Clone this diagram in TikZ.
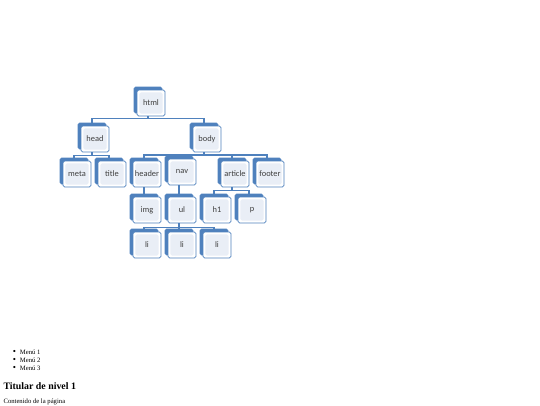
\documentclass[tikz,border=0pt]{standalone}
\usepackage{fontspec}
\usepackage{xcolor}
\usepackage{tikz}
\usetikzlibrary{shadows}
\setmainfont{Liberation Serif}
\newfontfamily\boxfont{Carlito}
\definecolor{boxblue}{HTML}{4F81BD}
\definecolor{boxinner}{HTML}{E9EEF6}
\definecolor{boxtext}{HTML}{404040}
\newcommand{\listdot}{\raisebox{-0.3pt}{\fontsize{6.8}{6}\selectfont\textbullet}}

\begin{document}
\begin{tikzpicture}[x=0.75pt, y=-0.75pt,
        stackbox/.style={draw=boxblue, line width=0.6pt, fill=white,
        rounded corners=1.2pt, minimum width=21pt, minimum height=19.5pt,
        inner sep=0pt, text=boxtext, font=\boxfont\fontsize{6.3}{7}\selectfont,
        copy shadow={shadow xshift=-2.25pt, shadow yshift=2.25pt,
        fill=boxblue, draw=boxblue},
        path picture={\fill[boxinner]
        ([shift={(1.8pt,1.8pt)}]path picture bounding box.south west) rectangle
        ([shift={(-1.8pt,-1.8pt)}]path picture bounding box.north east);}},
        link/.style={draw=boxblue, line width=0.9pt},
        pagetext/.style={anchor=west, inner sep=0pt, font=\fontsize{5}{6}\selectfont}]
        \useasboundingbox (0,0) rectangle (540,405);
        \clip (0,0) rectangle (540,405);

        \node[stackbox] (html) at (151,103) {html};
        \node[stackbox] (head) at (95,139) {head};
        \node[stackbox] (body) at (207,139) {body};
        \node[stackbox] (meta) at (77,174) {meta};
        \node[stackbox] (title) at (112,174) {title};
        \node[stackbox] (header) at (147,174) {header};
        \node[stackbox] (nav) at (182,172) {\raisebox{1.5pt}{nav}};
        \node[stackbox] (article) at (235,174) {article};
        \node[stackbox] (footer) at (270,174) {footer};
        \node[stackbox] (img) at (147,210) {img};
        \node[stackbox] (ul) at (182,210) {ul};
        \node[stackbox] (h1) at (217,210) {h1};
        \node[stackbox] (p) at (252,210) {p};
        \node[stackbox] (li1) at (147,245) {li};
        \node[stackbox] (li2) at (182,245) {li};
        \node[stackbox] (li3) at (217,245) {li};

        \draw[link] ([xshift=-2.25pt]html.south) -- ++(0,2) -| ([xshift=-2.25pt]head.north);
        \draw[link] ([xshift=-2.25pt]html.south) -- ++(0,2) -| ([xshift=-2.25pt]body.north);
        \draw[link] ([xshift=-2.25pt]head.south) -- ++(0,3) -| ([xshift=-2.25pt]meta.north);
        \draw[link] ([xshift=-2.25pt]head.south) -- ++(0,3) -| ([xshift=-2.25pt]title.north);
        \draw[link] ([xshift=-2.25pt]body.south) -- ++(0,2.5) -| ([xshift=-2.25pt]header.north);
        \draw[link] ([xshift=-2.25pt]body.south) -- ++(0,2.5) -| ([xshift=-2.25pt]nav.north);
        \draw[link] ([xshift=-2.25pt]body.south) -- ++(0,2.5) -| ([xshift=-2.25pt]article.north);
        \draw[link] ([xshift=-2.25pt]body.south) -- ++(0,2.5) -| ([xshift=-2.25pt]footer.north);
        \draw[link] ([xshift=-2.25pt]header.south) -- ([xshift=-2.25pt]img.north);
        \draw[link] ([xshift=-2.25pt]nav.south) -- ([xshift=-2.25pt]ul.north);
        \draw[link] ([xshift=-2.25pt]article.south) -- ++(0,3) -| ([xshift=-2.25pt]h1.north);
        \draw[link] ([xshift=-2.25pt]article.south) -- ++(0,3) -| ([xshift=-2.25pt]p.north);
        \draw[link] ([xshift=-2.25pt]ul.south) -- ++(0,4) -| ([xshift=-2.25pt]li1.north);
        \draw[link] ([xshift=-2.25pt]ul.south) -- ++(0,4) -| ([xshift=-2.25pt]li2.north);
        \draw[link] ([xshift=-2.25pt]ul.south) -- ++(0,4) -| ([xshift=-2.25pt]li3.north);

        \node[pagetext] (menu1) at (12.5,352) {\listdot\hspace{3pt}Menú 1};
        \node[pagetext] (menu2) at (12.5,360) {\listdot\hspace{3pt}Menú 2};
        \node[pagetext] (menu3) at (12.5,368) {\listdot\hspace{3pt}Menú 3};
        \node[pagetext, font=\bfseries\fontsize{7.4}{9}\selectfont] (titular) at (3.3,386.5) {Titular de nivel 1};
        \node[pagetext] (contenido) at (3.3,402) {Contenido de la página};
    \end{tikzpicture}
\end{document}
